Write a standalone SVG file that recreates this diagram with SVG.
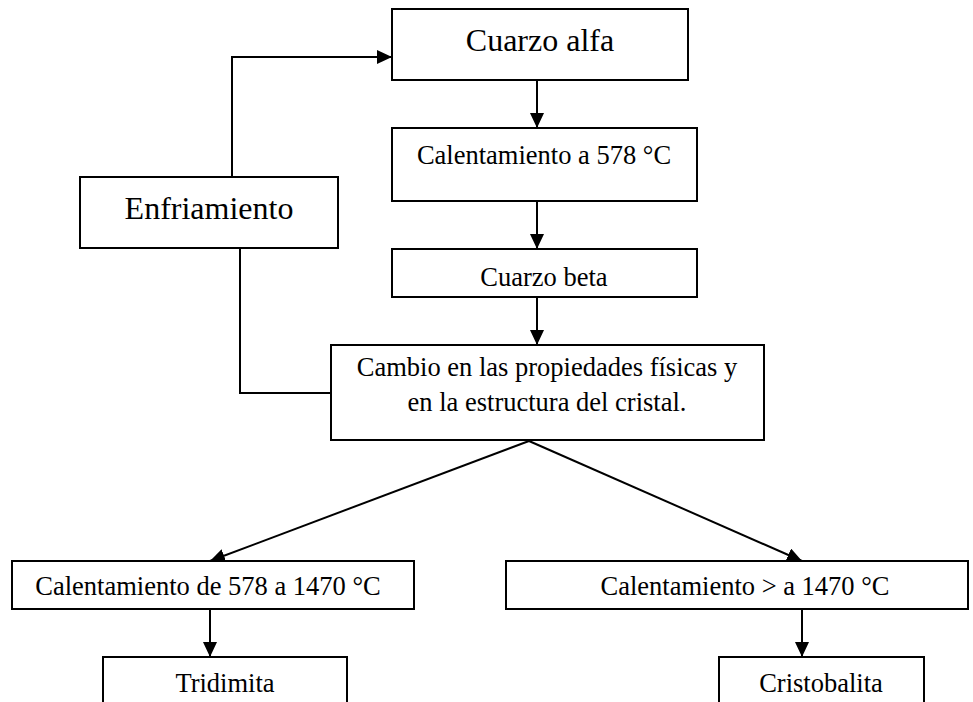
<svg xmlns="http://www.w3.org/2000/svg" width="973" height="702" viewBox="0 0 973 702">
<style>
.box{fill:#fff;stroke:#000;stroke-width:2}
.t{font-family:"Liberation Serif","Times New Roman",serif;fill:#000;text-anchor:middle}
.big{font-size:32px}
.sm{font-size:26.5px}
.c{fill:none;stroke:#000;stroke-width:2}
</style>
<defs>
<marker id="ah" markerUnits="userSpaceOnUse" markerWidth="16" markerHeight="14" refX="15" refY="7" orient="auto">
<path d="M0,0 L15,7 L0,14 z" fill="#000"/>
</marker>
</defs>
<rect width="973" height="702" fill="#fff"/>
<g id="connectors">
<line class="c" x1="537" y1="80" x2="537" y2="128" marker-end="url(#ah)"/>
<line class="c" x1="537" y1="201" x2="537" y2="249" marker-end="url(#ah)"/>
<line class="c" x1="537" y1="297" x2="537" y2="345" marker-end="url(#ah)"/>
<polyline class="c" points="232,177 232,57 392,57" marker-end="url(#ah)"/>
<polyline class="c" points="240,248 240,393 331,393"/>
<line class="c" x1="529" y1="441" x2="210" y2="561" marker-end="url(#ah)"/>
<line class="c" x1="529" y1="441" x2="802" y2="561" marker-end="url(#ah)"/>
<line class="c" x1="210" y1="609" x2="210" y2="657" marker-end="url(#ah)"/>
<line class="c" x1="802" y1="609" x2="802" y2="657" marker-end="url(#ah)"/>
</g>
<g id="cuarzo-alfa">
<rect class="box" x="392" y="9" width="296" height="71"/>
<text class="t big" x="540" y="51">Cuarzo alfa</text>
</g>
<g id="calentamiento-578">
<rect class="box" x="392" y="128" width="305" height="73"/>
<text class="t sm" x="544" y="164">Calentamiento a 578 °C</text>
</g>
<g id="cuarzo-beta">
<rect class="box" x="392" y="249" width="305" height="48"/>
<text class="t sm" x="544" y="286">Cuarzo beta</text>
</g>
<g id="enfriamiento">
<rect class="box" x="80" y="177" width="258" height="71"/>
<text class="t big" x="209" y="219">Enfriamiento</text>
</g>
<g id="cambio">
<rect class="box" x="331" y="345" width="433" height="95"/>
<text class="t sm" x="547" y="376">Cambio en las propiedades físicas y</text>
<text class="t sm" x="547" y="411">en la estructura del cristal.</text>
</g>
<g id="calentamiento-578-1470">
<rect class="box" x="12" y="561" width="402" height="48"/>
<text class="t sm" x="208" y="595">Calentamiento de 578 a 1470 °C</text>
</g>
<g id="calentamiento-mayor-1470">
<rect class="box" x="506" y="561" width="462" height="48"/>
<text class="t sm" x="745" y="595">Calentamiento &gt; a 1470 °C</text>
</g>
<g id="tridimita">
<rect class="box" x="103" y="657" width="244" height="60"/>
<text class="t sm" x="225" y="692">Tridimita</text>
</g>
<g id="cristobalita">
<rect class="box" x="719" y="657" width="205" height="60"/>
<text class="t sm" x="821" y="692">Cristobalita</text>
</g>
</svg>
